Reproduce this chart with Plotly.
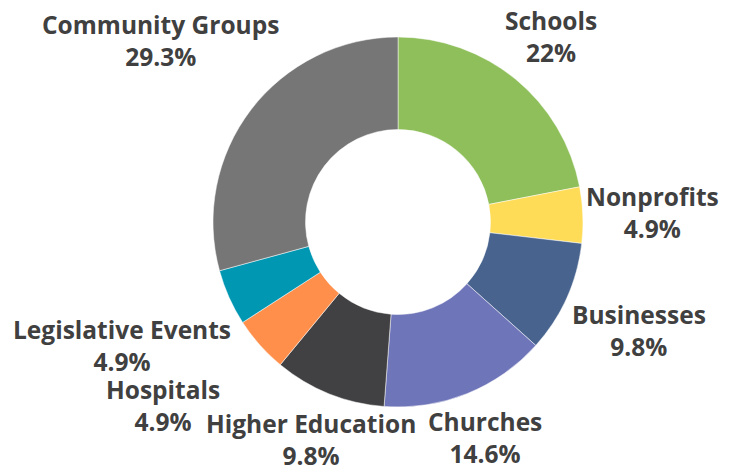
import numpy as np
import plotly.graph_objects as go

labels = ["Schools", "Nonprofits", "Businesses", "Churches", "Higher Education",
          "Hospitals", "Legislative Events", "Community Groups"]
values = [22, 4.9, 9.8, 14.6, 9.8, 4.9, 4.9, 29.3]
colors = ["#8FBF5B", "#FFDC57", "#48648E", "#6F75B9", "#414042",
          "#FF8F4B", "#0097B2", "#767676"]

# label placement: distance (px) of each label block centre from the pie centre,
# and a small angular nudge (degrees) away from the slice's mid-angle
label_dist = [241, 255, 264, 232, 234, 298, 302, 299]
label_nudge = [0, 0, 0, 0, 0, 3.6, 0, 0]

W, H = 733, 468
ml, mr, mt, mb = 90, 43, 29, 69
pw, ph = W - ml - mr, H - mt - mb
cx, cy = ml + pw / 2, mt + ph / 2

fig = go.Figure(go.Pie(
    labels=labels,
    values=values,
    hole=0.5,
    sort=False,
    direction="clockwise",
    rotation=0,
    marker=dict(colors=colors, line=dict(color="white", width=0.5)),
    textinfo="none",
    hoverinfo="label+value",
    showlegend=False,
))

vals = np.array(values, dtype=float)
cum = np.cumsum(vals) - vals / 2
angles = cum / vals.sum() * 2 * np.pi + np.radians(label_nudge)

annotations = []
for lab, v, a, d in zip(labels, values, angles, label_dist):
    px = cx + d * np.sin(a)
    py = cy - d * np.cos(a)
    annotations.append(dict(
        text=f"{lab}<br>{v:g}%",
        x=(px - ml) / pw, y=1 - (py - mt) / ph,
        xref="paper", yref="paper",
        xanchor="center", yanchor="middle",
        showarrow=False, align="center",
        font=dict(family="Open Sans", size=24.5, color="#404040", weight="bold"),
    ))

fig.update_layout(
    width=W, height=H,
    margin=dict(l=ml, r=mr, t=mt, b=mb),
    paper_bgcolor="white",
    plot_bgcolor="white",
    annotations=annotations,
)

fig.write_html("out.html")
